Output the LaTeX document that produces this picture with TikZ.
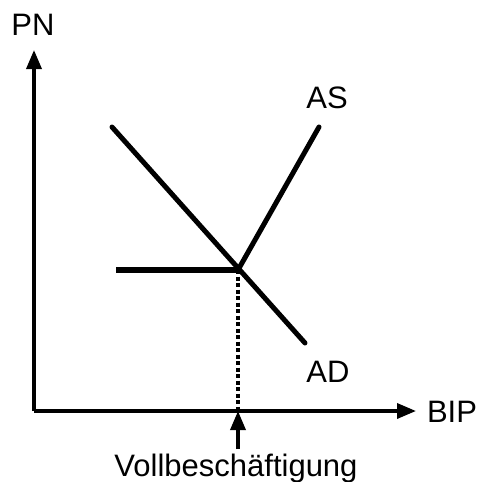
\documentclass[tikz,border=0pt]{standalone}
\usepackage{fontspec}
\setmainfont{Liberation Sans}
\usetikzlibrary{arrows.meta,positioning}

\begin{document}
\begin{tikzpicture}[x=1pt,y=-1pt,
    axis/.style={line width=3.5pt,-{Triangle[width=15pt,length=19pt]}},
    curve/.style={line width=5pt,line cap=round},
    lbl/.style={anchor=base,inner sep=0pt,font=\fontsize{31}{37}\selectfont}]
   \useasboundingbox (0,0) rectangle (482,482);
   % axes
   \coordinate (o)   at (34,411);
   \coordinate (ytop) at (34,50);
   \coordinate (xend) at (416,411);
   \draw[axis] (o) -- (ytop);
   \draw[axis] (o) -- (xend);
   \node[lbl] (pn)  at (33,35)  {PN};
   \node[lbl] (bip) at (452,422) {BIP};
   % curves
   \coordinate (eq)  at (238,270);
   \coordinate (ad1) at (112,127);
   \coordinate (ad2) at (305,343);
   \coordinate (as2) at (319,127);
   \coordinate (hl)  at (116,270);
   \coordinate (fx)  at (238,411);
   \draw[curve] (ad1) -- (ad2);
   \draw[curve] (eq) -- (as2);
   \draw[line width=6pt] (hl) -- (eq);
   \draw[line width=4pt,dash pattern=on 4pt off 2.5pt] (eq) -- (fx);
   \node[lbl] (as) at (327,108) {AS};
   \node[lbl] (ad) at (328,382) {AD};
   % full employment
   \node[lbl] (voll) at (236,476) {Vollbesch\"aftigung};
   \coordinate (vtail) at (238,449);
   \draw[line width=3.5pt,-{Triangle[width=15pt,length=19pt]}] (vtail) -- (fx);
\end{tikzpicture}
\end{document}
